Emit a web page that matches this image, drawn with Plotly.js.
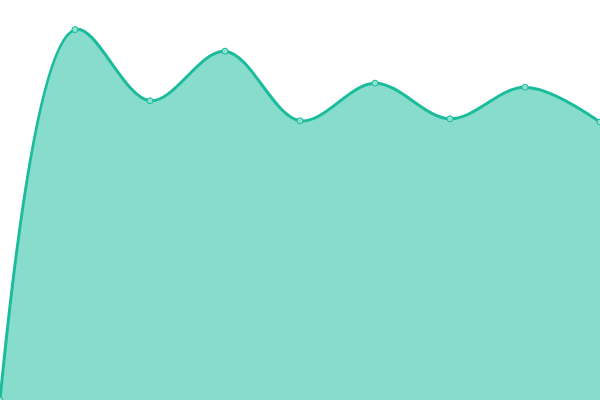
<!DOCTYPE html>
<html>
<head>
<meta charset="utf-8">
<script src="https://cdn.plot.ly/plotly-3.0.1.min.js"></script>
<style>
  html, body { margin: 0; padding: 0; background: #fff; }
  #chart { width: 600px; height: 400px; }
</style>
</head>
<body>
<div id="chart"></div>
<script>
// series data
const xValues = [0, 1, 2, 3, 4, 5, 6, 7, 8]
const yValues = [0, 92.6, 74.8, 87.2, 69.8, 79.2, 70.3, 78.2, 69.5]

const lineColor = '#1abc9c'
const areaColor = 'rgba(26,188,156,0.52)'

let trace = {
  x: xValues,
  y: yValues,
  type: 'scatter',
  mode: 'lines+markers',
  fill: 'tozeroy',
  fillcolor: areaColor,
  line: { color: lineColor, width: 3, shape: 'spline', smoothing: 1 },
  marker: { size: 6, color: '#8ee0cf', line: { color: lineColor, width: 1 } },
  hoverinfo: 'none',
}

let layout = {
  width: 600,
  height: 400,
  margin: { l: 0, r: 0, t: 0, b: 0 },
  paper_bgcolor: '#fff',
  plot_bgcolor: '#fff',
  showlegend: false,
  xaxis: { range: [0, 8], visible: false, fixedrange: true },
  yaxis: { range: [0, 100], visible: false, fixedrange: true },
}

Plotly.newPlot('chart', [trace], layout, { displayModeBar: false, staticPlot: true })
</script>
</body>
</html>
